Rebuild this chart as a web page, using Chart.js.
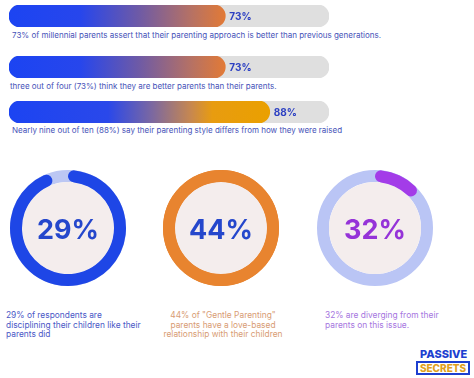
<!DOCTYPE html>
<html><head><meta charset="utf-8">
<script src="https://cdn.jsdelivr.net/npm/chart.js@4"></script>
<style>
html,body{margin:0;padding:0;background:#fff;width:474px;height:378px;overflow:hidden;font-family:Inter,"Noto Sans",sans-serif;}
#root{position:relative;width:474px;height:378px;}
canvas{position:absolute;}
.t{position:absolute;white-space:nowrap;font-size:8px;line-height:10px;}
.cap{position:absolute;font-size:8.4px;line-height:9.6px;}
</style></head>
<body><div id="root"></div>
<script>
// ---- data ----
const barValues = [73, 73, 88];
const barLabels = ["73%", "73%", "88%"];
const barCaptions = [
  "73% of millennial parents assert that their parenting approach is better than previous generations.",
  "three out of four (73%) think they are better parents than their parents.",
  "Nearly nine out of ten (88%) say their parenting style differs from how they were raised"
];
const trackMax = 108;
const ringValues = [29, 44, 32];
const ringFill = [95, 100, 14];
const ringCaptions = [
  "29% of respondents are<br>disciplining their children like their<br>parents did",
  "44% of \"Gentle Parenting\"<br>parents have a love-based<br>relationship with their children",
  "32% are diverging from their<br>parents on this issue."
];

// ---- styles ----
const root = document.getElementById('root');
const barTop = [5, 56, 101];
const capTop = [30, 81, 125];
const capLeft = [12, 10, 12];
const barStops = [
  [[0,'#1c44f2'],[0.33,'#2746ec'],[0.6,'#6e5aa6'],[0.85,'#b87262'],[1,'#e27a36']],
  [[0,'#1c44f2'],[0.33,'#2746ec'],[0.6,'#6e5aa6'],[0.85,'#b87262'],[1,'#e27a36']],
  [[0,'#1c44f2'],[0.38,'#2a48ea'],[0.55,'#7c68a0'],[0.7,'#c8884e'],[0.78,'#e89c10'],[1,'#eaa000']]
];
const trackLeft = 9, trackRight = 329;

barValues.forEach((v, i) => {
  const c = document.createElement('canvas');
  c.width = 474; c.height = 22;
  c.style.left = '0px'; c.style.top = barTop[i] + 'px';
  root.appendChild(c);
  new Chart(c, {
    type: 'bar',
    data: { labels: [''], datasets: [
      { data: [v], order: 0, grouped: false, barThickness: 22, borderRadius: 11, borderSkipped: false,
        backgroundColor: (ctx) => {
          const ch = ctx.chart; const a = ch.chartArea; if (!a) return '#1c44f2';
          const x1 = ch.scales.x.getPixelForValue(v);
          const g = ch.ctx.createLinearGradient(a.left, 0, x1, 0);
          barStops[i].forEach(s => g.addColorStop(s[0], s[1]));
          return g;
        } },
      { data: [trackMax], order: 1, grouped: false, barThickness: 22, borderRadius: 11, borderSkipped: false,
        backgroundColor: '#dfdfdf' }
    ]},
    options: {
      indexAxis: 'y', responsive: false, animation: false, devicePixelRatio: 1,
      layout: { padding: { left: trackLeft, right: 474 - trackRight, top: 0, bottom: 0 } },
      scales: { x: { display: false, min: 0, max: trackMax }, y: { display: false } },
      plugins: { legend: { display: false }, tooltip: { enabled: false } }
    },
    plugins: [{
      id: 'vlab',
      afterDatasetsDraw(ch) {
        const ctx = ch.ctx; const x = ch.scales.x.getPixelForValue(v);
        const y = ch.scales.y.getPixelForValue(0);
        ctx.save();
        ctx.font = '700 10px Inter, sans-serif';
        ctx.fillStyle = '#2b3fc2'; ctx.textBaseline = 'middle'; ctx.textAlign = 'left';
        ctx.fillText(barLabels[i], x + 4, y + 1);
        ctx.restore();
      }
    }]
  });
  const d = document.createElement('div');
  d.className = 't'; d.style.left = capLeft[i] + 'px'; d.style.top = capTop[i] + 'px';
  d.style.color = '#4652b8';
  d.textContent = barCaptions[i];
  root.appendChild(d);
});

// ---- rings ----
const ringCx = [68, 221, 375];
const ringCy = 228;
const ringColor = ['#1e46e6', '#e8842f', '#a33ce8'];
const ringTrack = ['#bcc7f3', '#e8842f', '#bac5f5'];
const ringText = ['#2547cc', '#2547cc', '#9533d8'];
const capColor = ['#4a58c6', '#d89c74', '#a676e0'];
const capX = [6, 223, 325];
const outerR = 58, innerR = 46;

ringFill.forEach((f, i) => {
  const c = document.createElement('canvas');
  c.width = 120; c.height = 120;
  c.style.left = (ringCx[i] - 60) + 'px'; c.style.top = (ringCy - 60) + 'px';
  root.appendChild(c);
  new Chart(c, {
    type: 'doughnut',
    data: { labels: ['a', 'b'], datasets: [{
      data: [f, 100 - f],
      backgroundColor: [ringColor[i], 'rgba(0,0,0,0)'],
      borderWidth: 0,
      borderRadius: f >= 100 ? 0 : [6, 0]
    }]},
    options: {
      responsive: false, animation: false, devicePixelRatio: 1,
      cutout: (innerR / outerR * 100) + '%',
      layout: { padding: 60 - outerR },
      plugins: { legend: { display: false }, tooltip: { enabled: false } }
    },
    plugins: [{
      id: 'bg',
      beforeDatasetsDraw(ch) {
        const ctx = ch.ctx; const m = ch.getDatasetMeta(0).data[0];
        const cx = m.x, cy = m.y;
        ctx.save();
        ctx.beginPath(); ctx.arc(cx, cy, (m.outerRadius + m.innerRadius) / 2, 0, Math.PI * 2);
        ctx.lineWidth = m.outerRadius - m.innerRadius; ctx.strokeStyle = ringTrack[i]; ctx.stroke();
        ctx.beginPath(); ctx.arc(cx, cy, m.innerRadius, 0, Math.PI * 2);
        ctx.fillStyle = '#f4eded'; ctx.fill();
        ctx.restore();
      },
      afterDatasetsDraw(ch) {
        const ctx = ch.ctx; const m = ch.getDatasetMeta(0).data[0];
        ctx.save();
        ctx.font = '700 27px Inter, sans-serif';
        ctx.fillStyle = ringText[i]; ctx.textAlign = 'center'; ctx.textBaseline = 'middle';
        ctx.fillText(ringValues[i] + '%', m.x, m.y + 3);
        ctx.restore();
      }
    }]
  });
  const d = document.createElement('div');
  d.className = 'cap';
  d.style.top = '311px'; d.style.color = capColor[i];
  if (i === 1) { d.style.left = (capX[i] - 90) + 'px'; d.style.width = '180px'; d.style.textAlign = 'center'; }
  else { d.style.left = capX[i] + 'px'; }
  d.innerHTML = ringCaptions[i];
  root.appendChild(d);
});

// ---- logo ----
const l1 = document.createElement('div');
l1.style.cssText = 'position:absolute;left:420px;top:349px;font:800 11px Inter,sans-serif;color:#1d3fd0;line-height:11px;';
l1.textContent = 'PASSIVE';
root.appendChild(l1);
const l2 = document.createElement('div');
l2.style.cssText = 'position:absolute;left:416px;top:361px;width:50px;height:10px;border:2px solid #1d3fd0;font:800 10px Inter,sans-serif;color:#e0a020;line-height:10px;text-align:center;';
l2.textContent = 'SECRETS';
root.appendChild(l2);
</script>
</body></html>
